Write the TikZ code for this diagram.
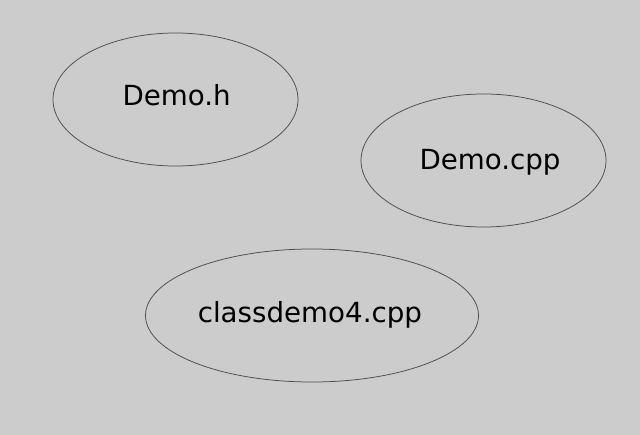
\documentclass[tikz,border=0pt]{standalone}
\usepackage{fontspec}
\setmainfont{DejaVu Sans}
\usetikzlibrary{shapes.geometric}
\tikzset{
  filebox/.style={ellipse,draw=black!70,line width=.75bp,inner sep=0pt,minimum height=133bp},
  filename/.style={anchor=base west,inner sep=0pt,font=\fontsize{27.7bp}{33bp}\selectfont}
}
\begin{document}
\begin{tikzpicture}[x=1bp,y=-1bp]
                \fill[black!20] (0,0) rectangle (640,435);
                \useasboundingbox (0,0) rectangle (640,435);
                \node[filebox,minimum width=245bp] (demoh) at (175.5,99.5) {};
                \node[filebox,minimum width=245bp] (democpp) at (483.5,160.5) {};
                \node[filebox,minimum width=333bp] (classdemo) at (312,315.5) {};
                \node[filename] (demohtext) at (122.3,106) {Demo.h};
                \node[filename] (democpptext) at (419.3,170) {Demo.cpp};
                \node[filename] (classdemotext) at (197.6,322) {classdemo4.cpp};
            \end{tikzpicture}
\end{document}
